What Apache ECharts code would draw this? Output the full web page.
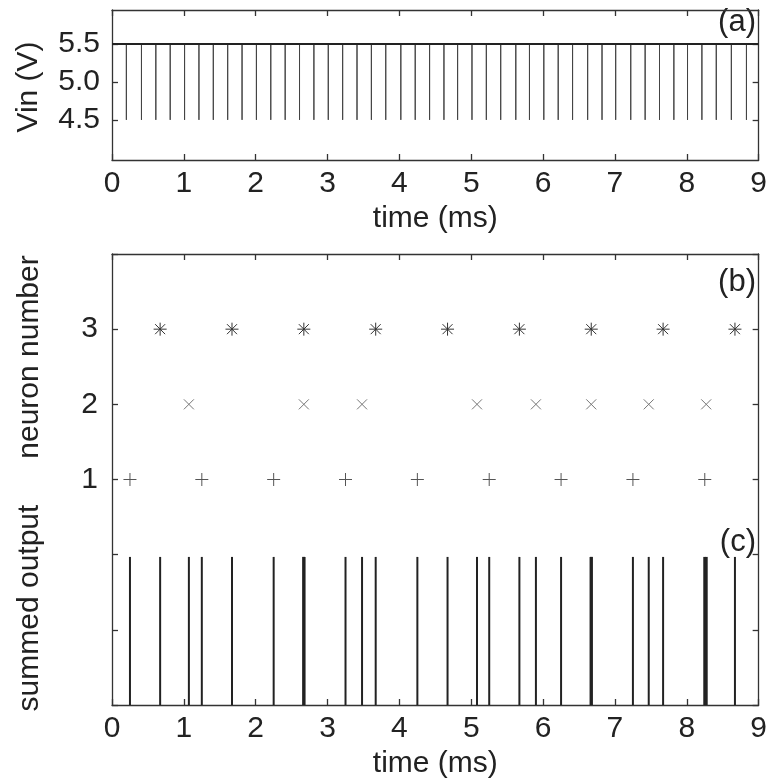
<!DOCTYPE html>
<html lang="en">
<head>
  <meta charset="UTF-8">
  <title>Vin spikes, neuron raster and summed output</title>
  <style>
    html, body { margin: 0; padding: 0; background: #fff; }
    #chart { width: 770px; height: 784px; }
  </style>
  <script src="https://cdn.jsdelivr.net/npm/echarts@6/dist/echarts.min.js"></script>
</head>
<body>
  <div id="chart"></div>
  <script>
    // (a) input voltage: resting level, dip level and dip times (ms)
    const vinHigh = 5.5;
    const vinLow = 4.5;
    const vinTicks = [4.5, 5.0, 5.5];
    const vinSpikes = [
      0.20, 0.41, 0.61, 0.81, 1.01, 1.21, 1.41, 1.61, 1.81, 2.01, 2.21,
      2.41, 2.61, 2.81, 3.01, 3.21, 3.41, 3.61, 3.81, 4.02, 4.22, 4.42,
      4.62, 4.81, 5.01, 5.21, 5.41, 5.62, 5.81, 6.01, 6.21, 6.41, 6.62,
      6.82, 7.01, 7.22, 7.42, 7.62, 7.82, 8.01, 8.21, 8.41, 8.62, 8.83
    ];

    // (b) firing times (ms) of each neuron
    const neuron1 = [0.25, 1.25, 2.25, 3.25, 4.25, 5.25, 6.25, 7.25, 8.25];
    const neuron2 = [1.07, 2.67, 3.48, 5.08, 5.90, 6.67, 7.47, 8.27];
    const neuron3 = [0.67, 1.67, 2.67, 3.67, 4.67, 5.67, 6.67, 7.67, 8.67];
    const neuronLabels = [1, 2, 3];

    // (c) summed output pulses sit below the raster, from -2 up to 0
    const sumBase = -2;
    const sumTop = -0.03;

    const font = 'Liberation Sans, Arial, sans-serif';
    const ink = '#222';
    const fs = 30;

    const chart = echarts.init(document.getElementById('chart'));

    // vin trace: flat line that dips at each spike time
    const vinTrace = [[0, vinHigh]];
    vinSpikes.forEach(t => {
      vinTrace.push([t, vinHigh], [t, vinLow], [t, vinHigh]);
    });
    vinTrace.push([9, vinHigh]);

    const summed = neuron1.concat(neuron2, neuron3).sort((a, b) => a - b);

    function markerRender(kind, color) {
      return function (params, api) {
        const p = api.coord([api.value(0), api.value(1)]);
        const r = 6.5;
        const d = 5;
        const segs = [];
        if (kind === 'plus' || kind === 'star') {
          segs.push([p[0] - r, p[1], p[0] + r, p[1]], [p[0], p[1] - r, p[0], p[1] + r]);
        }
        if (kind === 'cross' || kind === 'star') {
          segs.push([p[0] - d, p[1] - d, p[0] + d, p[1] + d], [p[0] - d, p[1] + d, p[0] + d, p[1] - d]);
        }
        return {
          type: 'group',
          children: segs.map(s => ({
            type: 'line',
            shape: { x1: s[0], y1: s[1], x2: s[2], y2: s[3] },
            style: { stroke: color, lineWidth: 1 }
          }))
        };
      };
    }

    function pulseRender(params, api) {
      const t = api.value(0);
      const lo = api.coord([t, sumBase]);
      const hi = api.coord([t, sumTop]);
      const close = summed.filter(s => Math.abs(s - t) < 0.03).length;
      return {
        type: 'line',
        shape: { x1: lo[0], y1: lo[1], x2: hi[0], y2: hi[1] },
        style: { stroke: ink, lineWidth: close > 1 ? 3 : 2 }
      };
    }

    const lineStyle = { color: '#333', width: 1.3 };
    function timeAxis(grid, pos, labels) {
      return {
        type: 'value', gridIndex: grid, position: pos,
        min: 0, max: 9, interval: 1,
        axisLine: { show: true, onZero: false, lineStyle: lineStyle },
        axisTick: { show: true, inside: true, length: 6, lineStyle: lineStyle },
        axisLabel: { show: labels, fontSize: fs, fontFamily: font, color: ink, margin: 9 },
        splitLine: { show: false },
        name: labels ? 'time (ms)' : '',
        nameLocation: 'middle',
        nameGap: 44,
        nameTextStyle: { fontSize: fs, fontFamily: font, color: ink }
      };
    }

    const option = {
      backgroundColor: '#fff',
      animation: false,
      grid: [
        { left: 112, top: 10, width: 648, height: 150 },
        { left: 112, top: 254, width: 648, height: 454 }
      ],
      xAxis: [
        timeAxis(0, 'bottom', true),
        timeAxis(0, 'top', false),
        timeAxis(1, 'bottom', true),
        timeAxis(1, 'top', false)
      ],
      yAxis: [
        {
          type: 'value', gridIndex: 0, position: 'left', min: 3.97, max: 5.95,
          axisLine: { show: true, onZero: false, lineStyle: lineStyle },
          axisTick: { show: true, inside: true, length: 6, lineStyle: lineStyle, customValues: vinTicks },
          axisLabel: {
            fontSize: fs, fontFamily: font, color: ink, margin: 12, customValues: vinTicks,
            formatter: v => v.toFixed(1)
          },
          splitLine: { show: false }
        },
        {
          type: 'value', gridIndex: 0, position: 'right', min: 3.97, max: 5.95,
          axisLine: { show: true, onZero: false, lineStyle: lineStyle },
          axisTick: { show: true, inside: true, length: 6, lineStyle: lineStyle, customValues: vinTicks },
          axisLabel: { show: false },
          splitLine: { show: false }
        },
        {
          type: 'value', gridIndex: 1, position: 'left', min: sumBase, max: 4, interval: 1,
          axisLine: { show: true, onZero: false, lineStyle: lineStyle },
          axisTick: { show: true, inside: true, length: 6, lineStyle: lineStyle },
          axisLabel: {
            fontSize: fs, fontFamily: font, color: ink, margin: 14,
            formatter: v => (neuronLabels.indexOf(v) >= 0 ? String(v) : '')
          },
          splitLine: { show: false }
        },
        {
          type: 'value', gridIndex: 1, position: 'right', min: sumBase, max: 4, interval: 1,
          axisLine: { show: true, onZero: false, lineStyle: lineStyle },
          axisTick: { show: true, inside: true, length: 6, lineStyle: lineStyle },
          axisLabel: { show: false },
          splitLine: { show: false }
        }
      ],
      graphic: [
        { type: 'text', x: 29, y: 87, rotation: Math.PI / 2,
          style: { text: 'Vin (V)', font: fs + 'px ' + font, fill: ink, align: 'center', verticalAlign: 'middle' } },
        { type: 'text', x: 30, y: 357, rotation: Math.PI / 2,
          style: { text: 'neuron number', font: fs + 'px ' + font, fill: ink, align: 'center', verticalAlign: 'middle' } },
        { type: 'text', x: 30, y: 608, rotation: Math.PI / 2,
          style: { text: 'summed output', font: fs + 'px ' + font, fill: ink, align: 'center', verticalAlign: 'middle' } },
        { type: 'text', x: 756, y: 22,
          style: { text: '(a)', font: '31px ' + font, fill: ink, align: 'right', verticalAlign: 'middle' } },
        { type: 'text', x: 756, y: 282,
          style: { text: '(b)', font: '31px ' + font, fill: ink, align: 'right', verticalAlign: 'middle' } },
        { type: 'text', x: 756, y: 542,
          style: { text: '(c)', font: '31px ' + font, fill: ink, align: 'right', verticalAlign: 'middle' } }
      ],
      series: [
        {
          name: 'Vin', type: 'line', xAxisIndex: 0, yAxisIndex: 0,
          data: vinTrace, symbol: 'none',
          lineStyle: { color: '#444', width: 1 }
        },
        {
          name: 'Vin level', type: 'line', xAxisIndex: 0, yAxisIndex: 0,
          data: [[0, vinHigh], [9, vinHigh]], symbol: 'none',
          lineStyle: { color: '#222', width: 2 }
        },
        {
          name: 'neuron 1', type: 'custom', xAxisIndex: 2, yAxisIndex: 2,
          data: neuron1.map(t => [t, 1]), renderItem: markerRender('plus', '#555')
        },
        {
          name: 'neuron 2', type: 'custom', xAxisIndex: 2, yAxisIndex: 2,
          data: neuron2.map(t => [t, 2]), renderItem: markerRender('cross', '#777')
        },
        {
          name: 'neuron 3', type: 'custom', xAxisIndex: 2, yAxisIndex: 2,
          data: neuron3.map(t => [t, 3]), renderItem: markerRender('star', '#333')
        },
        {
          name: 'summed output', type: 'custom', xAxisIndex: 2, yAxisIndex: 2,
          data: summed.map(t => [t]), renderItem: pulseRender
        }
      ]
    };

    chart.setOption(option);
  </script>
</body>
</html>
